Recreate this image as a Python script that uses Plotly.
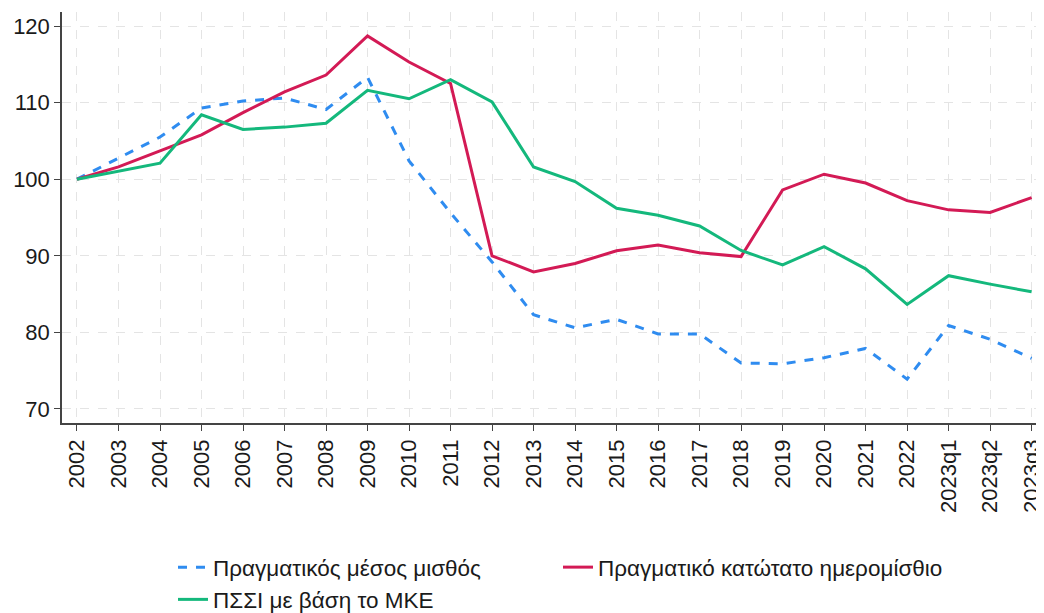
import plotly.graph_objects as go

periods = ["2002", "2003", "2004", "2005", "2006", "2007", "2008", "2009", "2010", "2011",
           "2012", "2013", "2014", "2015", "2016", "2017", "2018", "2019", "2020", "2021",
           "2022", "2023q1", "2023q2", "2023q3"]

avg_wage = [100.0, 102.7, 105.5, 109.3, 110.2, 110.6, 109.1, 113.3, 102.4, 95.6,
            89.2, 82.3, 80.6, 81.7, 79.8, 79.8, 76.0, 75.9, 76.7, 77.9,
            73.9, 80.9, 79.1, 76.6]

min_wage = [100.0, 101.6, 103.7, 105.8, 108.7, 111.4, 113.6, 118.7, 115.3, 112.5,
            90.0, 87.9, 89.0, 90.65, 91.4, 90.4, 89.9, 98.6, 100.65, 99.5,
            97.2, 96.0, 95.65, 97.6]

ulc = [100.0, 101.0, 102.1, 108.4, 106.5, 106.8, 107.3, 111.6, 110.5, 113.0,
       110.1, 101.6, 99.7, 96.2, 95.3, 93.9, 90.7, 88.8, 91.2, 88.3,
       83.65, 87.4, 86.3, 85.3]

names = ["Πραγματικός μέσος μισθός", "Πραγματικό κατώτατο ημερομίσθιο", "ΠΣΣΙ με βάση το ΜΚΕ"]
y_ticks = [70, 80, 90, 100, 110, 120]

x_idx = list(range(len(periods)))

W, H = 1036, 605  # page body has an 8px margin

fig = go.Figure()
fig.add_trace(go.Scatter(x=x_idx, y=avg_wage, mode="lines", name=names[0], legend="legend",
                         line=dict(color="#2f8cf0", width=3, dash="dash")))
fig.add_trace(go.Scatter(x=x_idx, y=min_wage, mode="lines", name=names[1], legend="legend2",
                         line=dict(color="#d31a55", width=3)))
fig.add_trace(go.Scatter(x=x_idx, y=ulc, mode="lines", name=names[2], legend="legend",
                         line=dict(color="#14b87c", width=3)))

leg_font = dict(size=22.5, color="#1a1a1a")
leg_top = 1 - 538 / H

fig.update_layout(
    width=W, height=H,
    margin=dict(l=54, r=2, t=4, b=190, autoexpand=False),
    paper_bgcolor="white", plot_bgcolor="white",
    font=dict(family="Liberation Sans, Arial, sans-serif", size=22, color="#1a1a1a"),
    legend=dict(orientation="v", xref="container", x=165 / W, xanchor="left",
                yref="container", y=leg_top, yanchor="top",
                font=leg_font, tracegroupgap=0, bgcolor="rgba(0,0,0,0)"),
    legend2=dict(orientation="v", xref="container", x=550 / W, xanchor="left",
                 yref="container", y=leg_top, yanchor="top",
                 font=leg_font, tracegroupgap=0, bgcolor="rgba(0,0,0,0)"),
    showlegend=True,
)
fig.update_xaxes(
    range=[-0.361, 23.25], tickmode="array", tickvals=x_idx, ticktext=periods,
    tickangle=-90, ticks="outside", ticklen=6, tickcolor="#444", automargin=False,
    showline=True, linecolor="#444", linewidth=1.5,
    showgrid=True, gridcolor="#e4e4e4", griddash="dash", gridwidth=1.2,
    zeroline=False, tickfont=dict(size=22, color="#1a1a1a"),
)
fig.update_yaxes(
    range=[68.17, 121.83], tickmode="array", tickvals=y_ticks, automargin=False,
    ticks="outside", ticklen=6, tickcolor="#444",
    showline=True, linecolor="#444", linewidth=1.5,
    showgrid=True, gridcolor="#e4e4e4", griddash="dash", gridwidth=1.2,
    zeroline=False, tickfont=dict(size=22, color="#1a1a1a"),
)

fig.write_html("out.html")
